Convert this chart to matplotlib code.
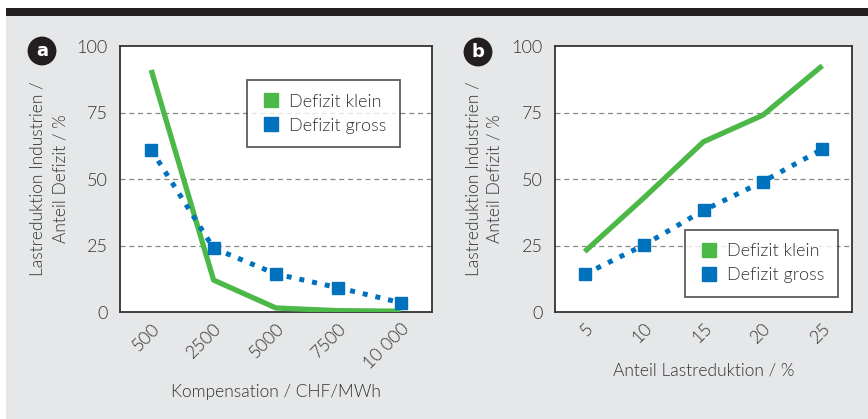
import matplotlib
matplotlib.use("Agg")
import matplotlib.pyplot as plt
import matplotlib.transforms as mtransforms
from matplotlib.patches import Rectangle
from matplotlib.lines import Line2D

plt.rcParams['font.family'] = ['Lato', 'DejaVu Sans']
plt.rcParams['font.weight'] = 300

# panel a data
komp_labels = ["500", "2500", "5000", "7500", "10 000"]
klein_a = [91, 12, 1.5, 0.5, 0.3]
gross_a = [61, 24, 14.3, 9.1, 3.5]

# panel b data
anteil_labels = ["5", "10", "15", "20", "25"]
klein_b = [22.7, 43, 64, 74, 92.6]
gross_b = [14.2, 25.2, 38.2, 49, 61.2]

ylabel_lines = ["Lastreduktion Industrien /", "Anteil Defizit / %"]
yticks = [0, 25, 50, 75, 100]
green = "#4cb848"
blue = "#0071bc"
dark = "#333333"
W, H = 868, 419

fig = plt.figure(figsize=(W / 100, H / 100), dpi=100)
fig.patch.set_facecolor("white")
fig.patches.append(Rectangle((6 / W, 0), 1, (H - 16) / H, transform=fig.transFigure,
                             fc="#e6e7e8", ec="none", zorder=-10))
fig.patches.append(Rectangle((6 / W, (H - 16) / H), 1, 8 / H, transform=fig.transFigure,
                             fc="#231f20", ec="none", zorder=-10))


def panel(rect, labels, klein, gross, xlabel, xlabel_y, letter, letter_xy, leg_corner, leg_loc):
    ax = fig.add_axes([rect[0] / W, (H - rect[3]) / H, (rect[2] - rect[0]) / W,
                       (rect[3] - rect[1]) / H])
    x = range(len(labels))
    ax.plot(x, klein, color=green, lw=3.8, solid_capstyle="butt", zorder=3)
    ax.plot(x, gross, color=blue, lw=3.6, ls=(0, (1, 1.6)), marker="s", ms=8.5, zorder=3)
    ax.set_xlim(-0.5, len(labels) - 0.5)
    ax.set_ylim(0, 100)
    ax.set_yticks(yticks)
    ax.set_xticks(list(x))
    ax.set_xticklabels(labels, rotation=45, ha="right", va="top", rotation_mode="anchor")
    shift = mtransforms.ScaledTranslation(6 / 100, -4 / 100, fig.dpi_scale_trans)
    for lab in ax.get_xticklabels():
        lab.set_transform(lab.get_transform() + shift)
    for y in yticks[1:4]:
        ax.axhline(y, color="#888888", lw=0.9, ls=(0, (4, 3)), zorder=1)
    ax.tick_params(length=0, labelsize=13, labelcolor=dark)
    ax.tick_params(axis="y", pad=9)
    ax.tick_params(axis="x", pad=6)
    for s in ax.spines.values():
        s.set_color(dark)
        s.set_linewidth(1.3)
    # y label, two centred lines
    for i, line in enumerate(ylabel_lines):
        fig.text((rect[0] - 82 + 22 * i) / W, 1 - 179 / H, line,
                 rotation=90, ha="center", va="center", fontsize=12.5, color=dark)
    fig.text((rect[0] + rect[2]) / 2 / W, 1 - xlabel_y / H, xlabel, ha="center", va="center",
             fontsize=12.5, color=dark)
    handles = [Line2D([], [], ls="none", marker="s", ms=10, color=green),
               Line2D([], [], ls="none", marker="s", ms=10, color=blue)]
    leg = ax.legend(handles, ["Defizit klein", "Defizit gross"], loc=leg_loc,
                    bbox_to_anchor=(leg_corner[0] / W, 1 - leg_corner[1] / H),
                    bbox_transform=fig.transFigure,
                    fontsize=13, frameon=True, fancybox=False, edgecolor=dark,
                    handletextpad=0.4, borderpad=0.75, labelspacing=0.45,
                    handlelength=1.2, borderaxespad=0)
    leg.get_frame().set_linewidth(1.3)
    for t in leg.get_texts():
        t.set_color(dark)
    fig.text(letter_xy[0] / W, 1 - letter_xy[1] / H, letter, color="white", fontsize=13,
             fontweight="bold", ha="center", va="center", family="DejaVu Sans",
             bbox=dict(boxstyle="circle,pad=0.3", fc="#231f20", ec="none"))
    return ax


ax1 = panel((120, 46, 432, 312), komp_labels, klein_a, gross_a,
            "Kompensation / CHF/MWh", 392, "a", (42, 51), (400, 80), "upper right")
ax2 = panel((555, 46, 852, 312), anteil_labels, klein_b, gross_b,
            "Anteil Lastreduktion / %", 370, "b", (478, 52), (838, 297), "lower right")

fig.savefig("out.png", dpi=100)
